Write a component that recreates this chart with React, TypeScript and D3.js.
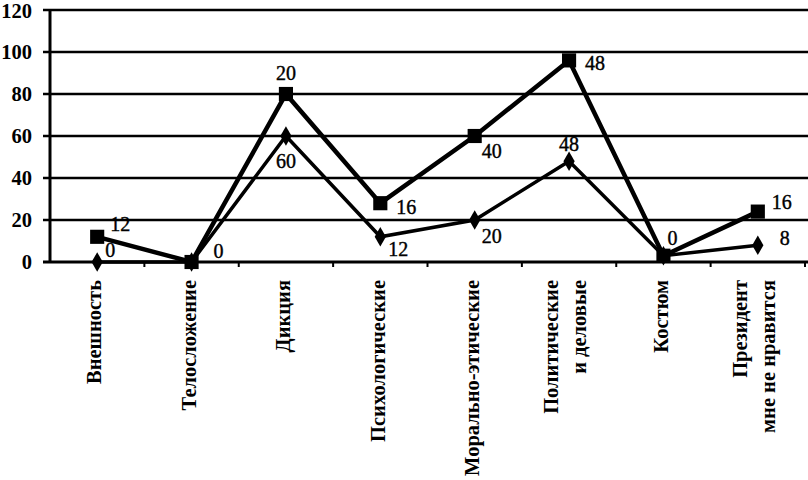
import React, { useEffect, useRef } from 'react'
import * as d3 from 'd3'

// categories (x axis), multi-line ones split by "|"
const categories = [
  'Внешность',
  'Телосложение',
  'Дикция',
  'Психологические',
  'Морально-этические',
  'Политические|и деловые',
  'Костюм',
  'Президент|мне не нравится',
]

// lower series (diamonds)
const diamondValues = [0, 0, 60, 12, 20, 48, 3, 8]
// upper series adds these on top (squares), these are also its labels
const squareIncrements = [12, 0, 20, 16, 40, 48, 0, 16]
// which diamond labels are printed (one hides under the other marker)
const diamondLabelShown = [true, false, true, true, true, true, false, true]

const yTicks = [0, 20, 40, 60, 80, 100, 120]

// label offsets from marker centre [dx, dy(baseline), anchor]
const squareLabelPos: [number, number, string][] = [
  [13, -6, 'start'], [22, -4, 'start'], [0, -14, 'middle'], [16, 11, 'start'],
  [7, 22, 'start'], [16, 10, 'start'], [4, -11, 'start'], [14, -3, 'start'],
]
const diamondLabelPos: [number, number, string][] = [
  [8, -5, 'start'], [22, -4, 'start'], [0, 32, 'middle'], [8, 19, 'start'],
  [7, 23, 'start'], [0, -10, 'middle'], [0, 0, 'start'], [22, 0, 'start'],
]

export default function App() {
  const ref = useRef<SVGSVGElement>(null)

  useEffect(() => {
    const svg = d3.select(ref.current)
    svg.selectAll('*').remove()

    const left = 50, right = 805, top = 10, bottom = 262
    const font = '"Liberation Serif", "Times New Roman", serif'

    const x = d3.scaleBand().domain(categories).range([left, right])
    const y = d3.scaleLinear().domain([0, 120]).range([bottom, top])
    const cx = (i: number) => (x(categories[i]) as number) + x.bandwidth() / 2

    // stacked series
    const rows = categories.map((c, i) => ({ c, d: diamondValues[i], s: squareIncrements[i] }))
    const stacked = d3.stack<any>().keys(['d', 's'])(rows)
    const lower = stacked[0].map(p => p[1])
    const upper = stacked[1].map(p => p[1])

    // grid
    svg.append('g')
      .selectAll('line')
      .data(yTicks.filter(t => t > 0))
      .enter()
      .append('line')
      .attr('x1', left - 7)
      .attr('x2', 808)
      .attr('y1', d => y(d))
      .attr('y2', d => y(d))
      .attr('stroke', '#000')
      .attr('stroke-width', 2.5)

    // axes
    svg.append('line')
      .attr('x1', left).attr('x2', left)
      .attr('y1', top - 1).attr('y2', bottom)
      .attr('stroke', '#000').attr('stroke-width', 3)
    svg.append('line')
      .attr('x1', left - 7).attr('x2', 808)
      .attr('y1', bottom).attr('y2', bottom)
      .attr('stroke', '#000').attr('stroke-width', 3)

    // x ticks between categories
    svg.append('g')
      .selectAll('line')
      .data(categories)
      .enter()
      .append('line')
      .attr('x1', d => (x(d) as number) + x.bandwidth())
      .attr('x2', d => (x(d) as number) + x.bandwidth())
      .attr('y1', bottom)
      .attr('y2', bottom + 5)
      .attr('stroke', '#000')
      .attr('stroke-width', 2)

    // y tick labels
    svg.append('g')
      .selectAll('text')
      .data(yTicks)
      .enter()
      .append('text')
      .attr('x', 32)
      .attr('y', d => y(d) + (d === 120 ? 1 : 0))
      .attr('dy', '0.32em')
      .attr('text-anchor', 'end')
      .attr('font-family', font)
      .attr('font-weight', 'bold')
      .attr('font-size', 20.5)
      .text(d => d)

    // x labels (rotated)
    const xl = svg.append('g')
    categories.forEach((c, i) => {
      const lines = c.split('|')
      lines.forEach((ln, k) => {
        const off = lines.length === 1 ? -3 : (k === 0 ? -18 : 10)
        xl.append('text')
          .attr('transform', `translate(${cx(i) + off},280) rotate(-90)`)
          .attr('text-anchor', 'end')
          .attr('dy', '0.35em')
          .attr('font-family', font)
          .attr('font-weight', 'bold')
          .attr('font-size', 20.5)
          .text(ln)
      })
    })

    const line = d3.line<number>()
      .x((d, i) => cx(i))
      .y(d => y(d))

    svg.append('path')
      .datum(lower)
      .attr('d', line)
      .attr('fill', 'none')
      .attr('stroke', '#000')
      .attr('stroke-width', 3.5)

    svg.append('path')
      .datum(upper)
      .attr('d', line)
      .attr('fill', 'none')
      .attr('stroke', '#000')
      .attr('stroke-width', 4.5)

    const diamond = d3.symbol().type(d3.symbolDiamond).size(110)
    const square = d3.symbol().type(d3.symbolSquare).size(200)

    svg.append('g')
      .selectAll('path')
      .data(lower)
      .enter()
      .append('path')
      .attr('d', diamond)
      .attr('transform', (d, i) => `translate(${cx(i)},${y(d)})`)
      .attr('fill', '#000')

    svg.append('g')
      .selectAll('path')
      .data(upper)
      .enter()
      .append('path')
      .attr('d', square)
      .attr('transform', (d, i) => `translate(${cx(i)},${y(d)})`)
      .attr('fill', '#000')

    svg.append('g')
      .selectAll('text')
      .data(squareIncrements)
      .enter()
      .append('text')
      .attr('x', (d, i) => cx(i) + squareLabelPos[i][0])
      .attr('y', (d, i) => y(upper[i]) + squareLabelPos[i][1])
      .attr('text-anchor', (d, i) => squareLabelPos[i][2])
      .attr('font-family', font)
      .attr('font-size', 20)
      .attr('stroke', '#000')
      .attr('stroke-width', 0.4)
      .text(d => d)

    svg.append('g')
      .selectAll('text')
      .data(diamondValues.map((v, i) => ({ v, i })).filter(o => diamondLabelShown[o.i]))
      .enter()
      .append('text')
      .attr('x', o => cx(o.i) + diamondLabelPos[o.i][0])
      .attr('y', o => y(lower[o.i]) + diamondLabelPos[o.i][1])
      .attr('text-anchor', o => diamondLabelPos[o.i][2])
      .attr('font-family', font)
      .attr('font-size', 20)
      .attr('stroke', '#000')
      .attr('stroke-width', 0.4)
      .text(o => o.v)
  }, [])

  return (
    <svg
      ref={ref}
      width={808}
      height={480}
      style={{ position: 'absolute', left: 0, top: 0, background: '#fff' }}
    />
  )
}
